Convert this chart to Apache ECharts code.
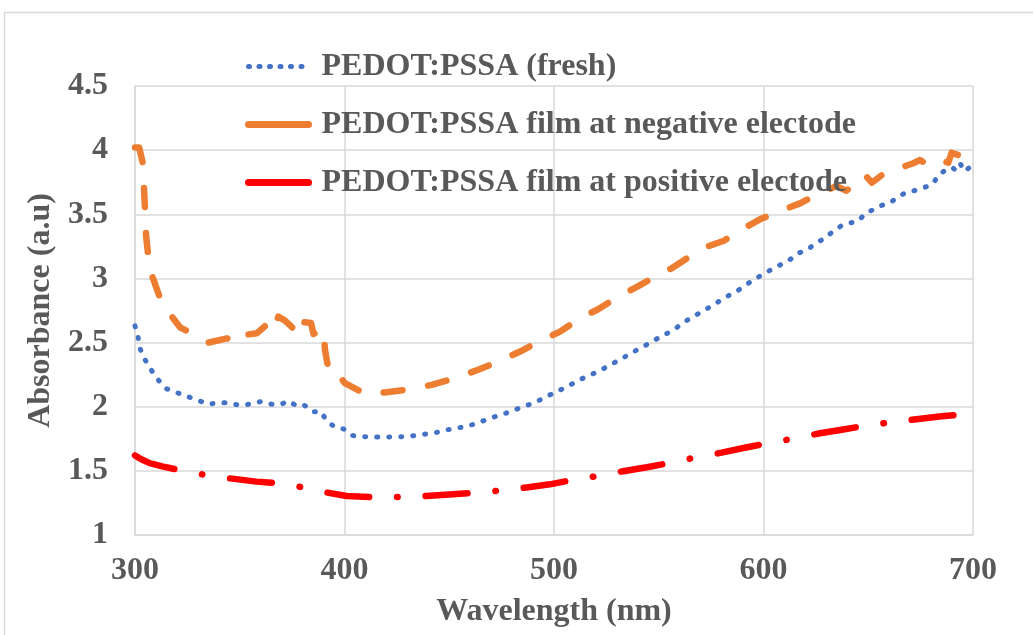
<!DOCTYPE html>
<html>
<head>
<meta charset="utf-8">
<script src="https://cdn.jsdelivr.net/npm/echarts@6/dist/echarts.min.js"></script>
<style>
html,body{margin:0;padding:0;background:#fff;}
#chart{width:1033px;height:635px;}
</style>
</head>
<body>
<div id="chart"></div>
<script>
// ---- data (wavelength nm, absorbance a.u.) ----
const freshWl = [300,301.5,302.5,305,308,311,315,320,325,330,335,340,345,350,355,360,365,370,373,378,381,385,389,391,395,400,404,410,415,421,427,433,438,444,449,455,461,466,471,477,482,488,493,498,503,508,513,519,524,529,534,539,544,549,554,559,563,568,573,578,583,588,592,597,602,607,612,616,621,625,629,633,637,641,645,649,652,656,660,664,668,672,677,681,684,686,690,692,694,696,700];
const freshAbs = [2.63,2.54,2.45,2.36,2.28,2.21,2.14,2.11,2.08,2.05,2.02,2.03,2.03,2.01,2.02,2.04,2.02,2.02,2.045,2.00,2.01,1.96,1.96,1.90,1.845,1.824,1.775,1.766,1.764,1.764,1.766,1.774,1.785,1.80,1.82,1.837,1.86,1.889,1.918,1.949,1.98,2.016,2.05,2.092,2.13,2.172,2.216,2.26,2.30,2.345,2.39,2.437,2.481,2.528,2.572,2.622,2.668,2.717,2.764,2.814,2.863,2.908,2.954,3.006,3.053,3.097,3.138,3.193,3.224,3.276,3.31,3.364,3.409,3.432,3.445,3.512,3.533,3.567,3.586,3.632,3.671,3.684,3.71,3.742,3.814,3.835,3.866,3.84,3.892,3.835,3.887];

const negWl = [300,302,303.7,304.3,304.8,305.3,306.3,308.4,311.6,317.2,321.5,328.6,335.1,343.9,348.5,351.7,358.1,363.6,366.3,368.4,371.6,378.8,380,384,385.2,389.9,390.7,392.7,397.9,400.2,409.8,420.1,431.3,441.6,452.7,462.3,473.4,483.8,493,502.9,512.4,521.1,530.7,539.8,549,556.2,565.3,572.9,581.1,589.1,598.3,607.1,617.4,625.1,634.9,639.4,645.3,648.5,651.7,657.2,664.8,671.5,674.7,678.7,684.3,688.2,689.8,695,700];
const negAbs = [4.02,4.02,3.90,3.705,3.53,3.33,3.183,3.01,2.863,2.711,2.619,2.559,2.50,2.533,2.497,2.559,2.572,2.65,2.598,2.702,2.671,2.559,2.66,2.653,2.567,2.606,2.442,2.255,2.232,2.183,2.10,2.113,2.136,2.17,2.222,2.279,2.351,2.43,2.51,2.585,2.69,2.76,2.858,2.936,3.021,3.079,3.177,3.247,3.294,3.377,3.461,3.52,3.585,3.65,3.72,3.684,3.746,3.806,3.746,3.814,3.859,3.898,3.923,3.884,3.923,3.902,3.98,3.95,4.0];

const posWl = [300,303,307,313,321,333,345,358,368,380,391,401,415,427,439,450,462,474,486,498,509,521,533,545,556,568,580,591,602,614,627,638,649,661,674,685,697,700];
const posAbs = [1.62,1.59,1.56,1.535,1.507,1.47,1.442,1.416,1.403,1.372,1.333,1.304,1.294,1.297,1.304,1.315,1.33,1.346,1.369,1.395,1.429,1.46,1.497,1.53,1.564,1.606,1.642,1.68,1.715,1.751,1.793,1.823,1.852,1.879,1.905,1.925,1.944,1.946];

const seriesNames = ['PEDOT:PSSA (fresh)','PEDOT:PSSA film at negative electode','PEDOT:PSSA film at positive electode'];
const xTicks = [300,400,500,600,700];
const yTicks = [1,1.5,2,2.5,3,3.5,4,4.5];

const zip = (a,b) => a.map((v,i)=>[v,b[i]]);
const FONT = 'Liberation Serif';
const GREY = '#595959';
const GRID = '#d9d9d9';
const FS = 32;

const chart = echarts.init(document.getElementById('chart'), null, {renderer:'canvas'});
chart.setOption({
  animation:false,
  backgroundColor:'#fff',
  graphic:[{type:'rect', shape:{x:4.5,y:12.5,width:1100,height:700}, style:{fill:'none',stroke:GRID,lineWidth:1.5}, z:-10}],
  grid:{left:135,right:60,top:86,bottom:100,containLabel:false},
  legend:{
    orient:'vertical', left:240, top:43, itemGap:21, itemWidth:60, itemHeight:14,
    selectedMode:false,
    itemStyle:{opacity:0},
    textStyle:{fontFamily:FONT,fontWeight:'bold',fontSize:FS,color:GREY,lineHeight:37,padding:[0,0,0,8]},
    data:[
      {name:seriesNames[0], lineStyle:{type:[1,9.5], width:5, cap:'round'}},
      {name:seriesNames[1], lineStyle:{type:'solid', width:7, cap:'round'}},
      {name:seriesNames[2], lineStyle:{type:'solid', width:7, cap:'round'}}
    ]
  },
  xAxis:{
    type:'value', min:xTicks[0], max:xTicks[xTicks.length-1], interval:100,
    name:'Wavelength (nm)', nameLocation:'middle', nameGap:61,
    nameTextStyle:{fontFamily:FONT,fontWeight:'bold',fontSize:FS,color:GREY},
    axisLine:{show:true,lineStyle:{color:GRID,width:1.5}},
    axisTick:{show:false},
    axisLabel:{fontFamily:FONT,fontWeight:'bold',fontSize:FS,color:GREY,margin:20},
    splitLine:{show:true,lineStyle:{color:GRID,width:1.5}}
  },
  yAxis:{
    type:'value', min:yTicks[0], max:yTicks[yTicks.length-1], interval:0.5,
    name:'Absorbance (a.u)', nameLocation:'middle', nameGap:76,
    nameTextStyle:{fontFamily:FONT,fontWeight:'bold',fontSize:FS,color:GREY},
    axisLine:{show:true,lineStyle:{color:GRID,width:1.5}},
    axisTick:{show:false},
    axisLabel:{fontFamily:FONT,fontWeight:'bold',fontSize:FS,color:GREY,margin:27},
    splitLine:{show:true,lineStyle:{color:GRID,width:1.5}}
  },
  series:[
    {name:seriesNames[0], type:'line', data:zip(freshWl,freshAbs), symbol:'none', color:'#4472C4',
     lineStyle:{width:5, type:[1,11], cap:'round', join:'round'}},
    {name:seriesNames[1], type:'line', data:zip(negWl,negAbs), symbol:'none', color:'#ED7D31',
     lineStyle:{width:6.5, type:[19,26], cap:'round', join:'round'}},
    {name:seriesNames[2], type:'line', data:zip(posWl,posAbs), symbol:'none', color:'#FF0000',
     lineStyle:{width:6.5, type:[42,28,0.5,28], cap:'round', join:'round'}}
  ]
});
</script>
</body>
</html>
